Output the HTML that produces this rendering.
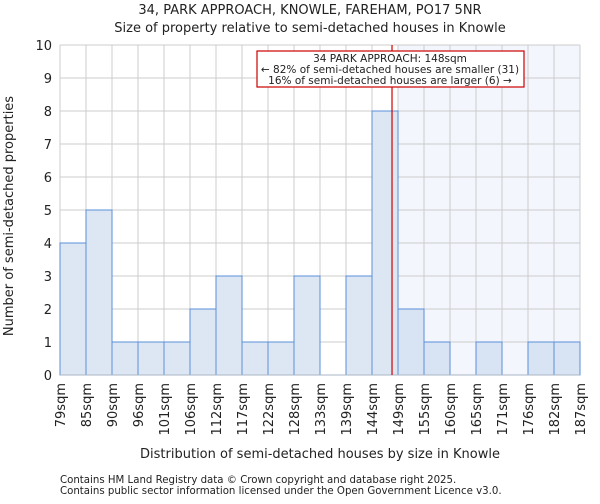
<!DOCTYPE html>
<html><head><meta charset="utf-8"><style>
body{margin:0;background:#fff;font-family:"DejaVu Sans","Liberation Sans",sans-serif}
svg text{font-family:"DejaVu Sans","Liberation Sans",sans-serif;fill:#222}
</style></head><body>
<svg id="c" width="600" height="500">
<text x="310" y="14" font-size="13" text-anchor="middle">34, PARK APPROACH, KNOWLE, FAREHAM, PO17 5NR</text>
<text x="310" y="32" font-size="13" text-anchor="middle">Size of property relative to semi-detached houses in Knowle</text>
<g id="plot"></g>
<text x="320" y="458" font-size="13" text-anchor="middle">Distribution of semi-detached houses by size in Knowle</text>
<text transform="translate(13,216) rotate(-90)" font-size="13" text-anchor="middle">Number of semi-detached properties</text>
<text x="60" y="483" font-size="10.2" fill="#444">Contains HM Land Registry data © Crown copyright and database right 2025.</text>
<text x="60" y="494" font-size="10.2" fill="#444">Contains public sector information licensed under the Open Government Licence v3.0.</text>
</svg>
<script>
const binLabels=["79sqm","85sqm","90sqm","96sqm","101sqm","106sqm","112sqm","117sqm","122sqm","128sqm","133sqm","139sqm","144sqm","149sqm","155sqm","160sqm","165sqm","171sqm","176sqm","182sqm","187sqm"];
const counts=[4,5,1,1,1,2,3,1,1,3,0,3,8,2,1,0,1,0,1,1];
const yTicks=[0,1,2,3,4,5,6,7,8,9,10];
const propertyBinPos=12.77;
const L=60,R=580,T=45,B=375,yMax=10;
const bw=(R-L)/counts.length;
const xs=i=>L+i*bw;
const ys=v=>B-(B-T)*v/yMax;
const g=document.getElementById('plot');
const NS='http://www.w3.org/2000/svg';
function mk(t,a){const e=document.createElementNS(NS,t);for(const k in a)e.setAttribute(k,a[k]);g.appendChild(e);return e;}
const lineX=xs(propertyBinPos);
const shadeStart=xs(Math.ceil(propertyBinPos));
let sh=mk('rect',{x:shadeStart,y:T,width:R-shadeStart,height:B-T,fill:'#f3f6fd'});


yTicks.forEach(v=>{
 let l=mk('line',{x1:L,x2:R,y1:ys(v),y2:ys(v),stroke:'#cccccc'});
 
 
 let t=mk('text',{x:L-8,y:ys(v)+5,'font-size':13,'text-anchor':'end'});t.textContent=v;
 
 
});
binLabels.forEach((s,i)=>{
 let l=mk('line',{x1:xs(i),x2:xs(i),y1:T,y2:B,stroke:'#cccccc'});
 
 
 let t=mk('text',{transform:`translate(${xs(i)+5},${B+8}) rotate(-90)`,'font-size':13,'text-anchor':'end'});t.textContent=s;
 
 
});
counts.forEach((v,i)=>{
 if(v<=0)return;
 let r=mk('rect',{x:xs(i),y:ys(v),width:bw,height:B-ys(v),fill:i>=Math.ceil(propertyBinPos)?'#d8e3f3':'#dde7f3',stroke:'#5a8fd8','stroke-width':1});
 
 
});
let ax=mk('line',{x1:L,x2:R,y1:B,y2:B,stroke:'#aab4c4'});


let pl=mk('line',{x1:lineX,x2:lineX,y1:T,y2:B,stroke:'#d00000','stroke-width':1.2});


let box=mk('rect',{x:257,y:51,width:267,height:36,fill:'#fff',stroke:'#cc0000','stroke-width':1.2});


["34 PARK APPROACH: 148sqm","← 82% of semi-detached houses are smaller (31)","16% of semi-detached houses are larger (6) →"].forEach((s,i)=>{
 let t=mk('text',{x:390,y:62+i*11,'font-size':10.5,'text-anchor':'middle'});t.textContent=s;
 
 
});
</script>
</body></html>
